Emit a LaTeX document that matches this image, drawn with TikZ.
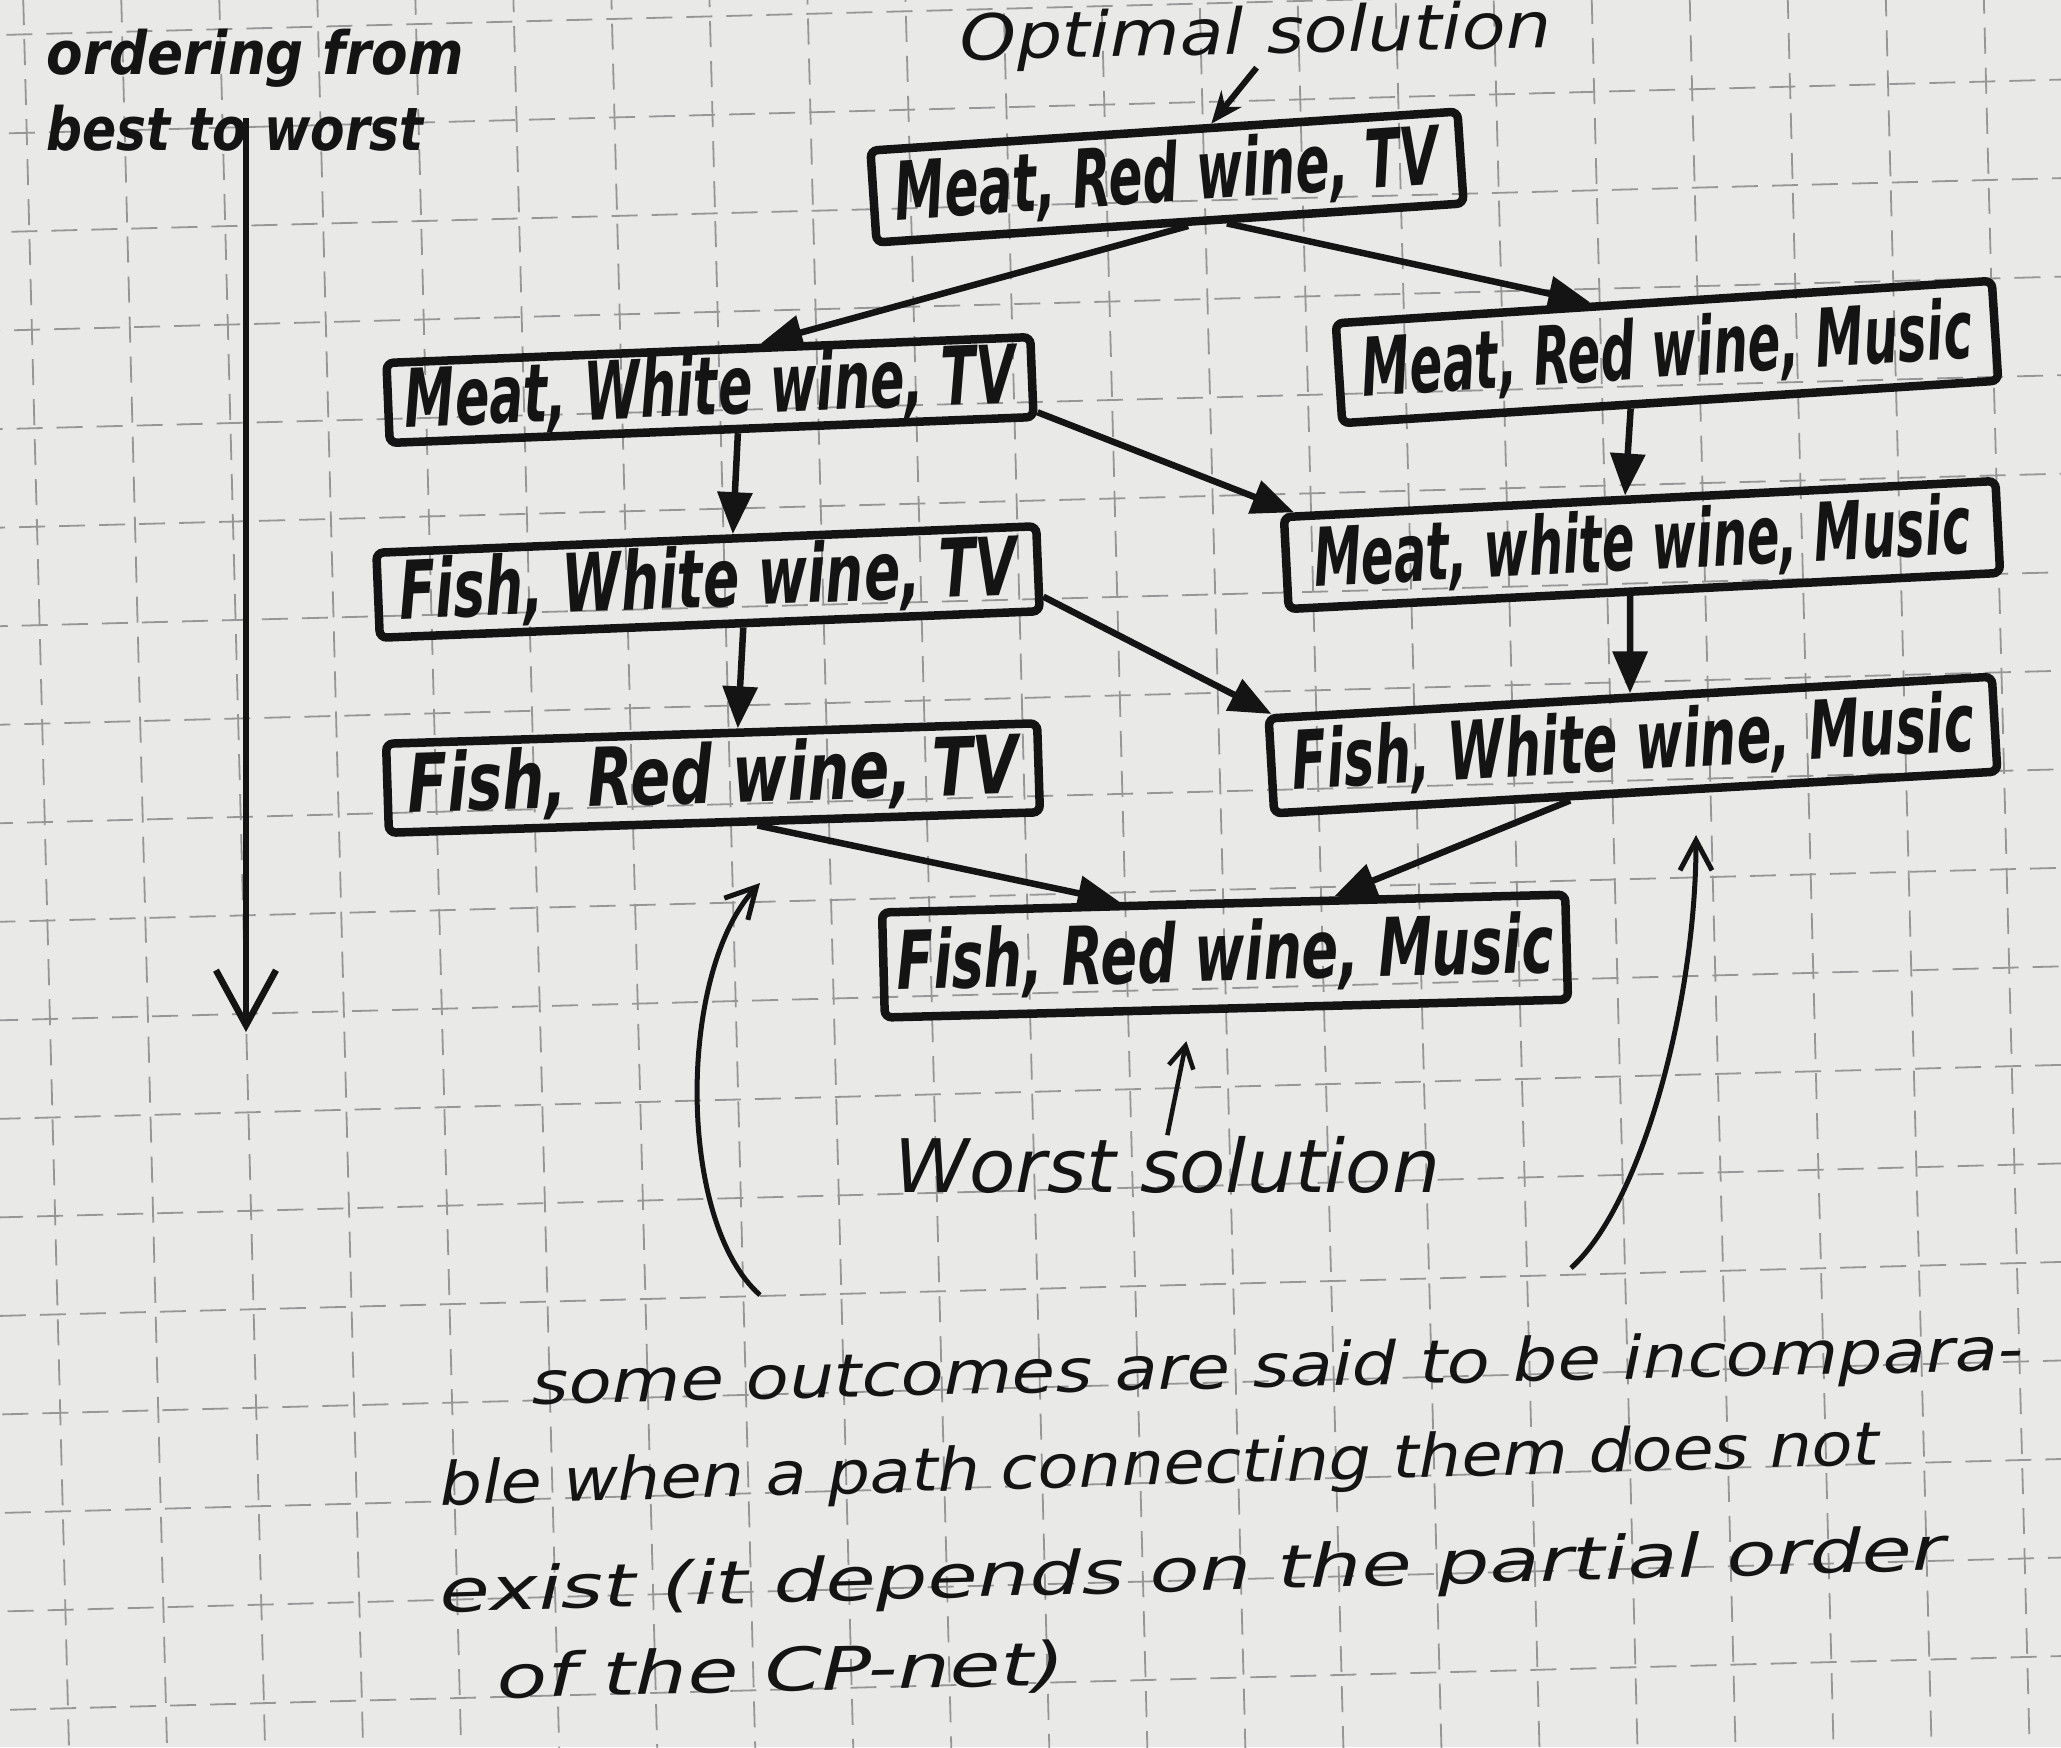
\documentclass[tikz,border=0pt]{standalone}
\usepackage{graphicx}
\usepackage{fontspec}
\setmainfont{DejaVu Sans}[ItalicFont={DejaVu Sans Oblique},BoldFont={DejaVu Sans Bold},BoldItalicFont={DejaVu Sans Bold Oblique}]
\usetikzlibrary{arrows.meta,calc}

\definecolor{paper}{RGB}{233,233,231}
\definecolor{ink}{RGB}{20,20,20}
\definecolor{gridline}{RGB}{150,150,150}

% stretch a line of handwriting to a given width, keeping its height
\newcommand{\fitto}[2]{\resizebox{#1}{\height}{#2}}

\tikzset{
  outcome/.style={draw=ink, line width=0.085cm, rounded corners=0.07cm, inner sep=0pt,
    text=ink, font=\bfseries\itshape\fontsize{23}{23}\selectfont},
  pref/.style={draw=ink, line width=0.065cm, -{Triangle[length=0.42cm,width=0.34cm]}},
  hand/.style={inner sep=0pt, text=ink},
  note/.style={hand, anchor=base west, font=\itshape\fontsize{17}{17}\selectfont},
  thinarrow/.style={draw=ink, line width=0.05cm, -{Straight Barb[length=0.3cm,width=0.32cm]}},
}

\begin{document}
\begin{tikzpicture}[x=0.01cm, y=-0.01cm]
\useasboundingbox (0,0) rectangle (2061,1747);
\fill[paper] (0,0) rectangle (2061,1747);

% squared paper
\begin{scope}[rotate around={1.5:(0,1710)}, draw=gridline, line width=0.018cm, dash pattern=on 0.26cm off 0.14cm]
  \foreach \k in {0,...,19} \draw (-150,1710-98.5*\k) -- (2250,1710-98.5*\k);
  \foreach \k in {-2,...,22} \draw (68+98*\k,-200) -- (68+98*\k,1900);
\end{scope}

% ordering arrow on the left
\node[hand, anchor=base west, font=\bfseries\itshape\fontsize{17}{17}\selectfont] (ord1) at (46,74) {\fitto{4.17cm}{ordering from}};
\node[hand, anchor=base west, font=\bfseries\itshape\fontsize{17}{17}\selectfont] (ord2) at (46,150) {\fitto{3.77cm}{best to worst}};
\coordinate (ordTop) at (246,118);
\coordinate (ordEnd) at (246,1032);
\draw[ink, line width=0.065cm, -{Straight Barb[length=0.55cm,width=0.6cm]}] (ordTop) -- (ordEnd);

% outcomes
\node[outcome, rotate=3.8, minimum width=5.88cm, minimum height=0.92cm] (b1) at (1167,177) {\fitto{5.45cm}{Meat, Red wine, TV}};
\node[outcome, rotate=2.3, minimum width=6.44cm, minimum height=0.80cm] (b2) at (710,390) {\fitto{6.11cm}{Meat, White wine, TV}};
\node[outcome, rotate=3.7, minimum width=6.57cm, minimum height=1.00cm] (b3) at (1667,352) {\fitto{6.11cm}{Meat, Red wine, Music}};
\node[outcome, rotate=2.3, minimum width=6.60cm, minimum height=0.85cm] (b4) at (708,582) {\fitto{6.18cm}{Fish, White wine, TV}};
\node[outcome, rotate=2.9, minimum width=7.12cm, minimum height=0.92cm] (b5) at (1642,545) {\fitto{6.57cm}{Meat, white wine, Music}};
\node[outcome, rotate=1.8, minimum width=6.51cm, minimum height=0.89cm] (b6) at (713,778) {\fitto{6.11cm}{Fish, Red wine, TV}};
\node[outcome, rotate=3.3, minimum width=7.24cm, minimum height=0.95cm] (b7) at (1633,745) {\fitto{6.83cm}{Fish, White wine, Music}};
\node[outcome, rotate=1.5, minimum width=6.83cm, minimum height=1.05cm] (b8) at (1225,956) {\fitto{6.57cm}{Fish, Red wine, Music}};

% preference edges
\draw[pref] ($(b1.south west)!0.53!(b1.south east)$) -- ($(b2.north west)!0.58!(b2.north east)$);
\draw[pref] ($(b1.south west)!0.595!(b1.south east)$) -- ($(b3.north west)!0.39!(b3.north east)$);
\draw[pref] ($(b2.south west)!0.54!(b2.south east)$) -- ($(b4.north west)!0.54!(b4.north east)$);
\draw[pref] ($(b2.east)!0.8!(b2.south east)$) -- ($(b5.north west)!0.02!(b5.north east)$);
\draw[pref] ($(b3.south west)!0.44!(b3.south east)$) -- ($(b5.north west)!0.48!(b5.north east)$);
\draw[pref] ($(b4.south west)!0.55!(b4.south east)$) -- ($(b6.north west)!0.54!(b6.north east)$);
\draw[pref] ($(b4.east)!0.6!(b4.south east)$) -- ($(b7.north west)!0.01!(b7.north east)$);
\draw[pref] ($(b5.south west)!0.48!(b5.south east)$) -- ($(b7.north west)!0.50!(b7.north east)$);
\draw[pref] ($(b6.south west)!0.565!(b6.south east)$) -- ($(b8.north west)!0.35!(b8.north east)$);
\draw[pref] ($(b7.south west)!0.41!(b7.south east)$) -- ($(b8.north west)!0.66!(b8.north east)$);

% best and worst labels
\node[hand, anchor=base west, rotate=1.2, font=\itshape\fontsize{18}{18}\selectfont] (opt) at (960,60) {\fitto{5.91cm}{Optimal solution}};
\draw[ink, line width=0.06cm, -{Stealth[length=0.32cm,width=0.26cm]}] (opt.south) -- ($(b1.north west)!0.58!(b1.north east)$);
\node[hand, anchor=base west, font=\itshape\fontsize{21}{21}\selectfont] (worst) at (894,1192) {\fitto{5.45cm}{Worst solution}};
\draw[ink, line width=0.045cm, -{Straight Barb[length=0.22cm,width=0.25cm]}, shorten >=0.28cm] (worst.north) -- ($(b8.south west)!0.45!(b8.south east)$);

% incomparable pairs
\coordinate (lcS) at (760,1295);
\coordinate (lcE) at (760,883);
\draw[thinarrow] (lcS) .. controls (677,1222) and (677,973) .. (lcE);
\coordinate (rcS) at (1571,1268);
\coordinate (rcE) at (1696,835);
\draw[thinarrow] (rcS) .. controls (1643,1203) and (1696,999) .. (rcE);

% explanation
\node[note, rotate=1.3] (n1) at (532,1404) {\fitto{14.91cm}{some outcomes are said to be incompara-}};
\node[note, rotate=1.6] (n2) at (440,1505) {\fitto{14.39cm}{ble when a path connecting them does not}};
\node[note, rotate=1.6] (n3) at (440,1612) {\fitto{15.05cm}{exist (it depends on the partial order}};
\node[note, rotate=1.3] (n4) at (497,1698) {\fitto{5.68cm}{of the CP-net)}};
\end{tikzpicture}
\end{document}
